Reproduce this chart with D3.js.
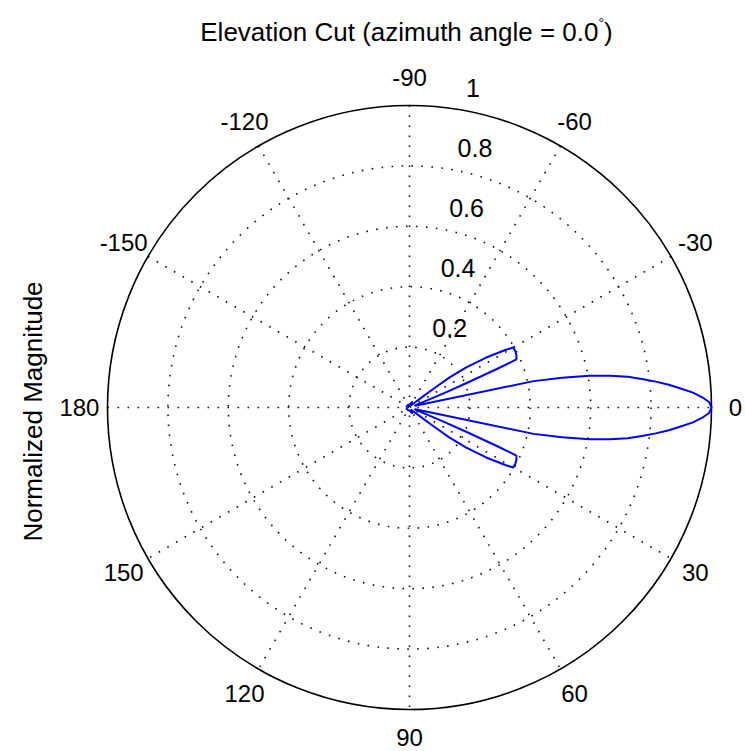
<!DOCTYPE html>
<html>
<head>
<meta charset="utf-8">
<script src="https://cdn.jsdelivr.net/npm/d3@7"></script>
<style>
  html, body { margin: 0; padding: 0; background: #fff; }
  svg { display: block; }
  text { font-family: "Liberation Sans", Arial, sans-serif; fill: #000; }
</style>
</head>
<body>
<svg id="chart" width="745" height="751"></svg>
<script>
// Elevation-cut response: elevation angle (deg) and normalized magnitude, in path order
const elevationDeg = [-180, -150, -120, -90, -64.2, -53.1, -44,
  -40.4, -38.1, -36.9, -35.2, -33.1, -31, -30, -28, -26, -24.2, -23.8, -23.2, -22.5, -20, -17.5,
  -12, -11, -10, -9, -8, -7, -6, -5, -4, -3, -2, -1, 0,
  1, 2, 3, 4, 5, 6, 7, 8, 9, 10, 11, 12,
  17.5, 20, 22.5, 23.2, 23.8, 24.2, 26, 28, 30, 31, 33.1, 35.2, 36.9, 38.1, 40.4,
  44, 53.1, 64.2, 90, 120, 150, 180];
const normMagnitude = [0.01, 0.01, 0.01, 0.01, 0.02, 0.01, 0.02,
  0.043, 0.098, 0.166, 0.23, 0.303, 0.37, 0.397, 0.397, 0.394, 0.388, 0.32, 0.21, 0.12, 0.02, 0.02,
  0.42, 0.515, 0.605, 0.672, 0.73, 0.775, 0.82, 0.862, 0.90, 0.94, 0.97, 0.993, 1.0,
  0.993, 0.97, 0.94, 0.90, 0.862, 0.82, 0.775, 0.73, 0.672, 0.605, 0.515, 0.42,
  0.02, 0.02, 0.12, 0.21, 0.32, 0.388, 0.394, 0.397, 0.397, 0.37, 0.303, 0.23, 0.166, 0.098, 0.043,
  0.02, 0.01, 0.02, 0.01, 0.01, 0.01, 0.01];

const angleTicks = [0, 30, 60, 90, 120, 150, 180, -150, -120, -90, -60, -30];
const ringTicks = [0.2, 0.4, 0.6, 0.8, 1];
const spokeAngles = [0, 30, 60, 90, 120, 150];
const titleMain = "Elevation Cut (azimuth angle = 0.0";
const radialLabel = "Normalized Magnitude";

const W = 745, H = 751;
const cx = 409.5, cy = 407.5, R = 302;
const ringLabelAngle = -82;
const angleLabelRadius = 1.093;

// 0 deg points right, positive angles run clockwise (downwards)
const theta = d3.scaleLinear().domain([-180, 180]).range([-Math.PI / 2, 3 * Math.PI / 2]);
const rad = d3.scaleLinear().domain([0, 1]).range([0, R]);
const pt = (a, v) => [rad(v) * Math.sin(theta(a)), -rad(v) * Math.cos(theta(a))];

const svg = d3.select("#chart");
svg.append("rect").attr("width", W).attr("height", H).attr("fill", "#fff");

const g = svg.append("g").attr("transform", `translate(${cx},${cy})`);

// dotted rings
g.selectAll("circle.ring")
  .data(ringTicks.filter(v => v < 1))
  .join("circle")
  .attr("class", "ring")
  .attr("r", d => rad(d))
  .attr("fill", "none")
  .attr("stroke", "#111")
  .attr("stroke-width", 1.6)
  .attr("stroke-dasharray", "1.6 8.4");

// dotted spokes through the centre
g.selectAll("line.spoke")
  .data(spokeAngles)
  .join("line")
  .attr("class", "spoke")
  .attr("x1", d => pt(d + 180, 1)[0])
  .attr("y1", d => pt(d + 180, 1)[1])
  .attr("x2", d => pt(d, 1)[0])
  .attr("y2", d => pt(d, 1)[1])
  .attr("stroke", "#111")
  .attr("stroke-width", 1.6)
  .attr("stroke-dasharray", "1.6 8.4");

// solid outer ring
g.append("circle")
  .attr("r", rad(1))
  .attr("fill", "none")
  .attr("stroke", "#000")
  .attr("stroke-width", 1.6);

// angle labels, kept inside the canvas
const angLabels = g.selectAll("text.ang")
  .data(angleTicks)
  .join("text")
  .attr("class", "ang")
  .attr("x", d => pt(d, angleLabelRadius)[0])
  .attr("y", d => pt(d, angleLabelRadius)[1])
  .attr("text-anchor", "middle")
  .attr("dominant-baseline", "central")
  .attr("font-size", 24)
  .text(d => d);
angLabels.each(function () {
  const b = this.getBBox();
  const maxRight = W - cx - 3;
  if (b.x + b.width > maxRight) {
    this.setAttribute("x", +this.getAttribute("x") - (b.x + b.width - maxRight));
  }
});

// ring value labels
g.selectAll("text.ringlab")
  .data(ringTicks)
  .join("text")
  .attr("class", "ringlab")
  .attr("x", d => pt(ringLabelAngle, d + 0.01)[0] + 14)
  .attr("y", d => pt(ringLabelAngle, d + 0.01)[1] - 8)
  .attr("font-size", 25)
  .text(d => d);

// response curve
const pts = elevationDeg.map((a, i) => ({ a, m: normMagnitude[i] }));
const radial = d3.lineRadial()
  .angle(d => theta(d.a))
  .radius(d => rad(d.m));
g.append("path")
  .datum(pts)
  .attr("d", radial)
  .attr("fill", "none")
  .attr("stroke", "#0000ff")
  .attr("stroke-width", 2)
  .attr("stroke-linejoin", "round");

// title
const title = svg.append("text")
  .attr("x", 406.5)
  .attr("y", 41)
  .attr("text-anchor", "middle")
  .attr("font-size", 26);
title.append("tspan").text(titleMain);
title.append("tspan").attr("font-size", 14).attr("dy", -13).text("°");
title.append("tspan").attr("dy", 13).text(")");

// radial axis label
svg.append("text")
  .attr("transform", "translate(42,411.5) rotate(-90)")
  .attr("text-anchor", "middle")
  .attr("font-size", 26)
  .text(radialLabel);
</script>
</body>
</html>
